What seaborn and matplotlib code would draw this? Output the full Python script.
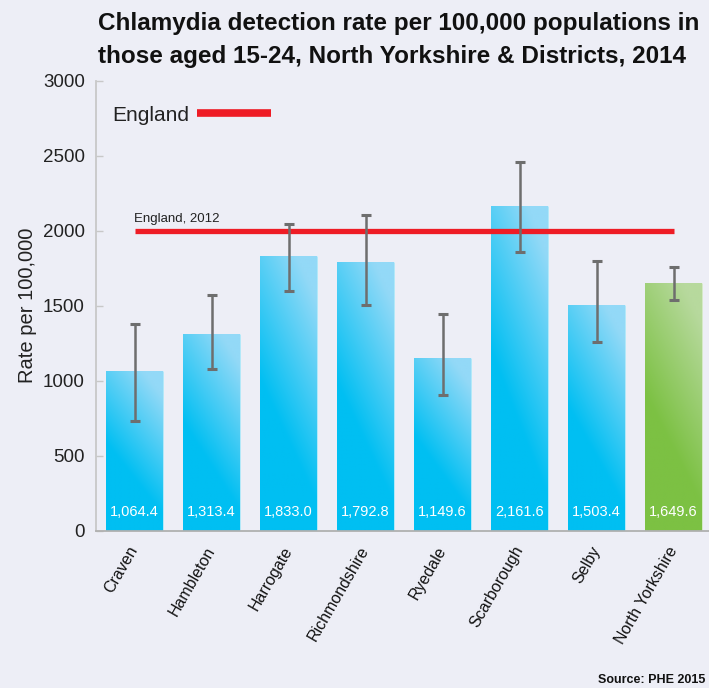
import numpy as np
import pandas as pd
import matplotlib
matplotlib.use("Agg")
import matplotlib.pyplot as plt
from matplotlib.colors import to_rgb
from matplotlib.lines import Line2D
import seaborn as sns

# ---------------- data ----------------
areas = ["Craven", "Hambleton", "Harrogate", "Richmondshire", "Ryedale",
         "Scarborough", "Selby", "North Yorkshire"]
rates = [1064.4, 1313.4, 1833.0, 1792.8, 1149.6, 2161.6, 1503.4, 1649.6]
ci_lower = [731, 1078, 1598, 1505, 905, 1860, 1260, 1535]
ci_upper = [1380, 1571, 2045, 2105, 1445, 2460, 1800, 1755]
groups = ["District"] * 7 + ["County"]
england_2012 = 2000
value_labels = ["1,064.4", "1,313.4", "1,833.0", "1,792.8", "1,149.6",
                "2,161.6", "1,503.4", "1,649.6"]
yticks = [0, 500, 1000, 1500, 2000, 2500, 3000]

df = pd.DataFrame({"area": areas, "rate": rates, "group": groups})

BG = "#EDEEF6"
sns.set_theme(style="white")
plt.rcParams["font.family"] = ["Liberation Sans", "DejaVu Sans"]

fig = plt.figure(figsize=(7.09, 6.88), dpi=100, facecolor=BG)
ax = fig.add_axes([96 / 709, 1 - 530.7 / 688, 616 / 709, 450 / 688])
ax.set_facecolor(BG)

palette = {"District": "#00BFF2", "County": "#7CC143"}
sns.barplot(data=df, x="area", y="rate", hue="group", palette=palette,
            dodge=False, width=0.74, legend=False, ax=ax, saturation=1,
            zorder=2, edgecolor=(1, 1, 1, 0.45), linewidth=0.8)

# gradient fills clipped to the bars
grad_cols = {
    "District": (to_rgb("#00BFF2"), to_rgb("#93D9F7")),
    "County": (to_rgb("#7CC143"), to_rgb("#B7D99D")),
}
bars = [p for p in ax.patches if p.get_height() > 0]
bars = sorted(bars, key=lambda p: p.get_x())
n = 60
u = np.linspace(0, 1, n)[None, :]
v = np.linspace(1, 0, n)[:, None]
for bar, grp in zip(bars, groups):
    x0, w = bar.get_x(), bar.get_width()
    h = bar.get_height()
    s = v + 0.45 * u
    t = np.clip((s - 0.55) / 0.75, 0, 1)[..., None]
    c0, c1 = (np.array(c) for c in grad_cols[grp])
    img = c0 * (1 - t) + c1 * t
    im = ax.imshow(img, extent=[x0, x0 + w, 0, h], aspect="auto",
                   zorder=2.1, interpolation="bilinear")
    im.set_clip_path(bar)

centers = [b.get_x() + b.get_width() / 2 for b in bars]
rates_a = np.array(rates)
yerr = [rates_a - np.array(ci_lower), np.array(ci_upper) - rates_a]
ax.errorbar(centers, rates_a, yerr=yerr, fmt="none", ecolor="#6E6E6E",
            elinewidth=1.8, capsize=3.6, capthick=2.2, zorder=4)

# England 2012 reference line
ax.plot([centers[0], centers[-1]], [england_2012, england_2012],
        color="#EE1C25", lw=3.8, zorder=3, solid_capstyle="butt")
ax.text(centers[0], england_2012 + 40, "England, 2012", fontsize=9.5,
        color="#222222", ha="left", va="bottom", zorder=5)

# value labels inside bars
for cx, lab in zip(centers, value_labels):
    ax.text(cx, 125, lab, ha="center", va="center", color="white",
            fontsize=10.5, zorder=5)

# legend
handle = Line2D([], [], color="#EE1C25", lw=5.5, solid_capstyle="butt")
leg = ax.legend([handle], ["England"], loc="center left",
                bbox_to_anchor=(0.027, 2770 / 3000), frameon=False,
                markerfirst=False, handlelength=3.55, handletextpad=0.35,
                fontsize=15, borderpad=0, borderaxespad=0)
for t in leg.get_texts():
    t.set_color("#222222")

ax.set_xlim(-0.5, len(areas) - 0.5)
ax.set_ylim(0, 3000)
ax.set_yticks(yticks)
ax.set_yticklabels([str(t) for t in yticks], fontsize=13.5, color="#222222")
ax.set_xticks(range(len(areas)))
ax.set_xticklabels(areas, rotation=60, ha="right", va="center",
                   rotation_mode="anchor", fontsize=11.5, color="#111111")
ax.set_xticks(np.arange(len(areas) + 1) - 0.5, minor=True)
ax.tick_params(axis="x", which="major", length=0, pad=12)
ax.tick_params(axis="x", which="minor", length=7, width=1.2, color="#C8C8C8",
               direction="out")
ax.tick_params(axis="y", which="major", length=5, width=1, color="#C8C8C8",
               direction="in", pad=8, left=True)
ax.set_xlabel("")
ax.set_ylabel("Rate per 100,000", fontsize=14.5, color="#222222", labelpad=4)

for side in ["top", "right"]:
    ax.spines[side].set_visible(False)
ax.spines["left"].set_color("#C8C8C8")
ax.spines["left"].set_linewidth(1.3)
ax.spines["bottom"].set_color("#B0B0B0")
ax.spines["bottom"].set_linewidth(1.3)

fig.text(98 / 709, 1 - 12 / 688,
         "Chlamydia detection rate per 100,000 populations in\n"
         "those aged 15-24, North Yorkshire & Districts, 2014",
         ha="left", va="top", fontsize=17.5, fontweight="bold",
         color="#111111", linespacing=1.55)
fig.text(705 / 709, 1 - 680 / 688, "Source: PHE 2015", ha="right",
         va="center", fontsize=9, fontweight="bold", color="#111111")

fig.savefig("out.png", dpi=100, facecolor=BG)
